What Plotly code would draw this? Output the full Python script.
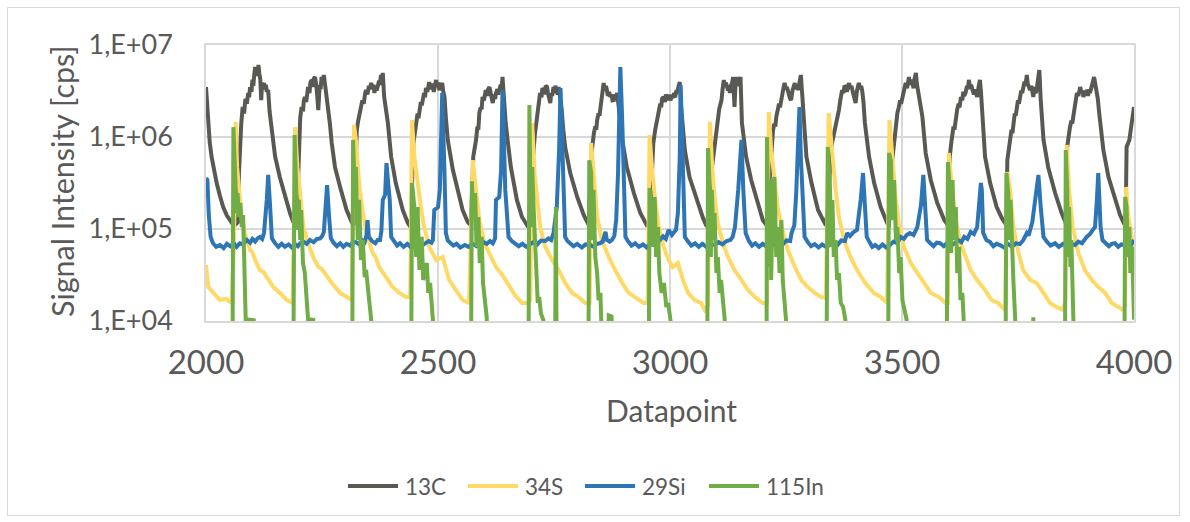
import plotly.graph_objects as go

# ---------------------------------------------------------------------------
# Signal traces as (datapoint index, counts per second) pairs
# ---------------------------------------------------------------------------
pts_13c = [
    (2000, 3.49e6), (2002, 2.3e6), (2005, 1.42e6), (2008, 8.8e5), (2012, 6.1e5), (2017, 4.2e5), (2023, 3.16e5),
    (2030, 2.3e5), (2037, 1.73e5), (2045, 1.4e5), (2052, 1.25e5), (2059, 1.10e5), (2064, 1.12e5),
    (2069, 1.19e5), (2071, 4.0e5), (2073, 7.2e5), (2076, 1.4e6), (2079, 2.12e6), (2082, 1.8e6), (2085, 2.6e6),
    (2088, 2.3e6), (2091, 3.0e6), (2093, 2.7e6), (2095, 3.49e6), (2098, 3.1e6), (2100, 4.2e6), (2102, 3.6e6),
    (2104, 4.8e6), (2106, 5.77e6), (2108, 4.6e6), (2110, 5.4e6), (2112, 4.7e6), (2113, 6.07e6), (2115, 4.9e6),
    (2117, 4.2e6), (2119, 2.52e6), (2121, 3.9e6), (2123, 3.4e6), (2125, 3.86e6), (2127, 3.3e6), (2129, 3.7e6),
    (2131, 3.1e6), (2134, 3.24e6), (2137, 1.9e6), (2142, 1.10e6), (2149, 6.1e5), (2159, 3.67e5), (2170, 2.23e5),
    (2181, 1.49e5), (2188, 1.19e5), (2194, 1.10e5),
    (2197, 2.07e5), (2200, 9.3e5), (2203, 1.6e6), (2206, 2.12e6), (2209, 1.9e6), (2211, 2.5e6), (2213, 2.72e6),
    (2216, 2.4e6), (2218, 3.2e6), (2220, 3.49e6), (2223, 3.0e6), (2225, 3.9e6), (2228, 4.17e6), (2230, 3.5e6),
    (2232, 4.3e6), (2235, 4.49e6), (2238, 3.6e6), (2240, 2.6e6), (2242, 1.96e6), (2245, 3.67e6), (2247, 3.3e6),
    (2249, 4.49e6), (2251, 3.8e6), (2254, 4.72e6), (2256, 3.9e6), (2258, 3.4e6), (2260, 3.01e6), (2264, 2.12e6),
    (2267, 1.4e6), (2271, 8.6e5), (2278, 4.7e5), (2289, 2.86e5), (2303, 1.61e5), (2314, 1.19e5), (2318, 1.10e5),
    (2322, 4.4e5), (2325, 1.19e6), (2328, 1.5e6), (2331, 1.9e6), (2334, 2.12e6), (2337, 2.5e6), (2340, 2.3e6),
    (2343, 3.0e6), (2345, 3.24e6), (2348, 2.9e6), (2351, 3.6e6), (2353, 3.3e6), (2356, 3.86e6), (2359, 3.4e6),
    (2361, 3.7e6), (2363, 3.01e6), (2366, 3.6e6), (2368, 3.2e6), (2370, 3.49e6), (2373, 4.1e6), (2375, 3.7e6),
    (2377, 4.72e6), (2379, 4.2e6), (2381, 4.97e6), (2384, 2.72e6), (2388, 1.9e6), (2392, 1.42e6), (2399, 6.1e5),
    (2409, 3.16e5), (2424, 1.61e5), (2435, 1.16e5), (2441, 1.05e5),
    (2444, 4.7e5), (2447, 8.5e5), (2450, 1.1e6), (2453, 1.42e6), (2456, 1.8e6), (2458, 1.6e6), (2460, 2.12e6),
    (2463, 2.4e6), (2465, 2.2e6), (2467, 2.72e6), (2470, 3.0e6), (2472, 2.7e6), (2474, 3.41e6), (2477, 3.1e6),
    (2479, 3.7e6), (2481, 3.96e6), (2484, 3.3e6), (2486, 3.8e6), (2489, 3.49e6), (2491, 3.1e6), (2494, 3.8e6),
    (2496, 4.17e6), (2498, 3.5e6), (2500, 3.9e6), (2503, 3.24e6), (2506, 3.6e6), (2509, 3.86e6), (2511, 3.2e6),
    (2514, 2.72e6), (2517, 1.6e6), (2521, 9.3e5), (2532, 4.4e5), (2542, 2.66e5), (2553, 1.61e5), (2564, 1.19e5),
    (2571, 1.10e5),
    (2576, 6.1e5), (2579, 7.2e5), (2582, 9.3e5), (2585, 1.3e6), (2587, 1.2e6), (2589, 1.82e6), (2592, 2.1e6),
    (2594, 2.0e6), (2596, 2.72e6), (2599, 2.5e6), (2601, 3.0e6), (2603, 3.24e6), (2606, 2.8e6), (2608, 3.3e6),
    (2611, 3.49e6), (2614, 3.0e6), (2616, 2.6e6), (2618, 2.34e6), (2621, 2.9e6), (2623, 2.6e6), (2625, 3.01e6),
    (2628, 3.3e6), (2630, 2.9e6), (2632, 3.24e6), (2635, 3.7e6), (2637, 3.3e6), (2639, 4.49e6), (2641, 3.2e6),
    (2643, 2.12e6), (2646, 1.4e6), (2650, 9.3e5), (2657, 4.7e5), (2670, 2.07e5), (2681, 1.35e5), (2692, 1.10e5),
    (2697, 1.16e5),
    (2699, 2.66e5), (2702, 4.5e5), (2706, 7.2e5), (2709, 1.1e6), (2711, 1.3e6), (2713, 1.65e6), (2716, 2.2e6),
    (2718, 2.5e6), (2720, 3.01e6), (2723, 2.7e6), (2725, 3.4e6), (2728, 3.24e6), (2730, 2.9e6), (2732, 3.6e6),
    (2735, 3.49e6), (2737, 3.0e6), (2740, 2.6e6), (2742, 2.34e6), (2744, 3.0e6), (2746, 2.8e6), (2749, 3.49e6),
    (2751, 3.0e6), (2753, 3.6e6), (2756, 3.24e6), (2758, 2.9e6), (2760, 3.49e6), (2763, 2.8e6), (2766, 2.12e6),
    (2770, 1.2e6), (2774, 7.8e5), (2785, 4.06e5), (2800, 2.23e5), (2814, 1.42e5), (2825, 1.10e5),
    (2830, 6.1e5), (2833, 8.5e5), (2836, 1.10e6), (2839, 1.3e6), (2841, 1.2e6), (2843, 1.53e6), (2846, 1.8e6),
    (2848, 1.7e6), (2850, 2.12e6), (2853, 2.8e6), (2855, 3.3e6), (2857, 3.86e6), (2859, 3.2e6), (2862, 3.6e6),
    (2864, 3.24e6), (2866, 2.8e6), (2869, 3.1e6), (2871, 2.72e6), (2874, 2.9e6), (2876, 2.5e6), (2879, 2.52e6),
    (2881, 2.9e6), (2884, 2.7e6), (2886, 3.01e6), (2889, 2.23e6), (2893, 1.5e6), (2897, 9.3e5), (2907, 4.7e5),
    (2922, 2.46e5), (2936, 1.49e5), (2950, 1.10e5), (2956, 1.10e5),
    (2961, 6.1e5), (2964, 8.5e5), (2968, 1.19e6), (2971, 1.4e6), (2973, 1.6e6), (2976, 1.82e6), (2979, 2.3e6),
    (2981, 2.1e6), (2983, 2.6e6), (2986, 2.72e6), (2989, 2.4e6), (2991, 2.9e6), (2994, 2.6e6), (2996, 2.52e6),
    (2999, 2.9e6), (3001, 2.5e6), (3004, 2.8e6), (3006, 2.65e6), (3009, 3.0e6), (3011, 2.7e6), (3014, 3.24e6),
    (3016, 3.0e6), (3018, 3.5e6), (3021, 3.96e6), (3024, 2.12e6), (3028, 1.2e6), (3032, 7.2e5), (3042, 3.67e5),
    (3057, 2.07e5), (3071, 1.32e5), (3078, 1.10e5), (3084, 1.10e5),
    (3089, 4.06e5), (3092, 5.5e5), (3096, 7.8e5), (3099, 1.2e6), (3101, 1.4e6), (3103, 1.65e6), (3106, 2.0e6),
    (3108, 2.2e6), (3111, 2.52e6), (3113, 3.2e6), (3116, 4.17e6), (3118, 3.5e6), (3120, 3.9e6), (3122, 3.67e6),
    (3125, 3.2e6), (3127, 3.5e6), (3129, 3.01e6), (3131, 3.6e6), (3134, 3.9e6), (3136, 4.49e6), (3139, 2.12e6),
    (3141, 3.6e6), (3143, 4.49e6), (3146, 3.6e6), (3148, 3.86e6), (3150, 4.2e6), (3152, 4.49e6), (3155, 1.42e6),
    (3164, 6.1e5), (3175, 3.41e5), (3190, 1.92e5), (3200, 1.25e5), (3208, 1.10e5),
    (3215, 4.06e5), (3218, 8.0e5), (3222, 1.19e6), (3225, 1.4e6), (3227, 1.3e6), (3229, 1.65e6), (3232, 1.9e6),
    (3235, 2.3e6), (3237, 2.1e6), (3240, 2.72e6), (3243, 3.1e6), (3245, 3.5e6), (3247, 3.86e6), (3250, 3.3e6),
    (3252, 3.5e6), (3254, 3.01e6), (3257, 2.8e6), (3259, 2.6e6), (3261, 2.52e6), (3264, 3.2e6), (3266, 3.5e6),
    (3269, 3.86e6), (3271, 3.3e6), (3274, 3.6e6), (3276, 3.24e6), (3279, 3.8e6), (3282, 4.72e6), (3284, 3.4e6),
    (3287, 2.12e6), (3290, 1.2e6), (3294, 6.1e5), (3305, 3.16e5), (3319, 1.61e5), (3330, 1.25e5), (3336, 1.10e5),
    (3342, 2.07e5), (3346, 7.2e5), (3349, 8.5e5), (3352, 1.0e6), (3355, 1.1e6), (3357, 1.19e6), (3360, 1.5e6),
    (3362, 1.7e6), (3364, 1.96e6), (3367, 2.5e6), (3369, 2.9e6), (3371, 3.24e6), (3374, 3.0e6), (3376, 3.6e6),
    (3379, 3.49e6), (3381, 3.1e6), (3384, 3.6e6), (3386, 3.86e6), (3388, 3.3e6), (3391, 3.6e6), (3393, 3.24e6),
    (3396, 2.8e6), (3398, 2.6e6), (3400, 2.34e6), (3403, 3.2e6), (3405, 3.5e6), (3407, 3.86e6), (3410, 3.3e6),
    (3412, 3.6e6), (3414, 3.24e6), (3417, 2.4e6), (3420, 1.42e6), (3429, 6.1e5), (3440, 3.16e5), (3454, 1.73e5),
    (3468, 1.16e5), (3472, 1.13e5),
    (3476, 4.06e5), (3480, 6.5e5), (3483, 9.3e5), (3486, 1.3e6), (3488, 1.5e6), (3490, 1.82e6), (3493, 2.1e6),
    (3496, 2.5e6), (3498, 2.3e6), (3501, 2.72e6), (3503, 3.2e6), (3506, 3.5e6), (3508, 3.86e6), (3511, 3.4e6),
    (3513, 4.1e6), (3515, 4.49e6), (3517, 3.7e6), (3520, 4.2e6), (3522, 3.86e6), (3525, 3.4e6), (3527, 4.3e6),
    (3530, 4.97e6), (3532, 3.8e6), (3534, 3.3e6), (3537, 2.72e6), (3540, 2.4e6), (3544, 1.65e6), (3551, 6.7e5),
    (3562, 3.41e5), (3576, 1.92e5), (3591, 1.25e5), (3599, 1.10e5),
    (3603, 6.1e5), (3606, 8.5e5), (3608, 1.0e6), (3611, 1.3e6), (3613, 1.2e6), (3616, 1.65e6), (3619, 2.0e6),
    (3622, 2.3e6), (3624, 2.1e6), (3627, 2.72e6), (3630, 2.5e6), (3632, 3.1e6), (3634, 2.8e6), (3637, 3.01e6),
    (3640, 3.6e6), (3642, 3.3e6), (3644, 4.17e6), (3647, 3.4e6), (3649, 3.7e6), (3652, 3.24e6), (3655, 2.9e6),
    (3657, 3.3e6), (3660, 2.8e6), (3662, 2.72e6), (3665, 3.5e6), (3668, 4.17e6), (3670, 3.2e6), (3672, 2.12e6),
    (3675, 1.2e6), (3679, 6.1e5), (3690, 3.16e5), (3704, 1.73e5), (3715, 1.32e5), (3722, 1.16e5), (3725, 1.10e5),
    (3727, 5.6e5), (3730, 7.5e5), (3733, 9.3e5), (3736, 1.2e6), (3738, 1.1e6), (3740, 1.42e6), (3743, 1.8e6),
    (3745, 1.7e6), (3747, 2.12e6), (3750, 2.5e6), (3752, 2.3e6), (3754, 2.72e6), (3757, 3.2e6), (3759, 3.0e6),
    (3761, 3.49e6), (3764, 4.0e6), (3766, 3.6e6), (3769, 4.72e6), (3771, 3.8e6), (3774, 3.5e6), (3776, 3.24e6),
    (3779, 3.6e6), (3781, 3.0e6), (3783, 2.72e6), (3786, 3.5e6), (3788, 3.0e6), (3790, 3.24e6), (3793, 4.0e6),
    (3796, 5.35e6), (3799, 2.52e6), (3802, 1.5e6), (3805, 9.3e5), (3815, 4.7e5), (3830, 2.46e5), (3844, 1.49e5),
    (3853, 1.16e5),
    (3856, 7.8e5), (3859, 1.1e6), (3862, 1.28e6), (3865, 1.5e6), (3867, 1.4e6), (3869, 1.65e6), (3872, 2.2e6),
    (3874, 2.6e6), (3877, 3.01e6), (3880, 2.8e6), (3882, 3.3e6), (3884, 3.49e6), (3887, 3.0e6), (3889, 3.2e6),
    (3891, 2.72e6), (3894, 3.1e6), (3896, 2.9e6), (3898, 3.24e6), (3901, 2.8e6), (3903, 3.3e6), (3905, 3.01e6),
    (3908, 3.6e6), (3911, 3.9e6), (3914, 4.49e6), (3917, 3.6e6), (3920, 3.24e6), (3922, 2.6e6), (3925, 1.82e6),
    (3929, 1.1e6), (3934, 7.2e5), (3945, 3.67e5), (3959, 2.07e5), (3970, 1.42e5), (3978, 1.16e5), (3982, 1.10e5),
    (3984, 7.8e5), (3987, 8.5e5), (3990, 9.3e5), (3993, 1.2e6), (3995, 1.42e6), (3998, 1.8e6), (4000, 2.12e6),
]

pts_34s = [
    (2000, 4.06e4), (2005, 2.34e4), (2016, 2.02e4), (2030, 1.69e4), (2043, 1.74e4), (2055, 1.57e4), (2060, 5.9e4),
    (2064, 1.46e6), (2067, 4.7e5), (2072, 2.23e5), (2077, 1.35e5), (2084, 9.05e4), (2095, 5.9e4), (2100, 5.6e4),
    (2106, 4.6e4), (2116, 3.58e4), (2124, 3.4e4), (2131, 3.0e4), (2145, 2.34e4), (2159, 2.02e4), (2174, 1.69e4),
    (2187, 1.57e4),
    (2192, 1.28e6), (2197, 4.7e5), (2203, 2.07e5), (2210, 1.05e5), (2220, 7.0e4), (2231, 4.96e4), (2242, 3.86e4),
    (2249, 3.7e4), (2256, 3.32e4), (2271, 2.59e4), (2289, 2.02e4), (2303, 1.82e4), (2314, 1.69e4),
    (2319, 1.35e6), (2323, 9.3e5), (2330, 3.16e5), (2338, 1.49e5), (2348, 8.2e4), (2359, 5.5e4), (2366, 4.9e4),
    (2373, 3.86e4), (2388, 3.0e4), (2402, 2.34e4), (2417, 2.02e4), (2431, 1.82e4), (2440, 1.82e4),
    (2444, 1.53e6), (2449, 6.1e5), (2456, 3.16e5), (2463, 1.73e5), (2470, 1.05e5), (2481, 6.4e4), (2496, 4.6e4),
    (2510, 4.96e4), (2524, 2.79e4), (2539, 2.17e4), (2553, 1.69e4), (2567, 1.57e4),
    (2575, 5.6e5), (2582, 2.66e5), (2589, 1.25e5), (2600, 7.0e4), (2611, 5.5e4), (2625, 3.86e4), (2639, 3.15e4),
    (2654, 2.34e4), (2666, 1.9e4), (2681, 1.57e4), (2694, 1.57e4), (2699, 1.69e4),
    (2703, 1.42e6), (2708, 4.06e5), (2713, 2.07e5), (2720, 1.05e5), (2731, 6.4e4), (2746, 4.6e4), (2760, 3.58e4),
    (2774, 2.59e4), (2789, 2.02e4), (2803, 1.82e4), (2817, 1.57e4), (2827, 1.57e4),
    (2830, 8.6e5), (2836, 3.41e5), (2843, 1.35e5), (2853, 7.6e4), (2868, 4.96e4), (2882, 3.58e4), (2897, 2.59e4),
    (2911, 2.02e4), (2925, 1.82e4), (2943, 1.57e4), (2952, 1.57e4),
    (2956, 1.05e6), (2961, 4.7e5), (2968, 2.07e5), (2976, 1.05e5), (2986, 6.4e4), (2997, 4.6e4), (3006, 3.86e4),
    (3017, 4.27e4), (3028, 2.79e4), (3039, 2.02e4), (3053, 1.69e4), (3067, 1.57e4), (3075, 1.32e4), (3082, 1.48e4),
    (3086, 1.46e6), (3091, 4.7e5), (3096, 2.23e5), (3103, 1.16e5), (3114, 7.0e4), (3125, 4.96e4), (3139, 3.58e4),
    (3154, 2.79e4), (3168, 2.17e4), (3183, 1.82e4), (3200, 1.57e4), (3209, 1.57e4),
    (3213, 1.87e6), (3218, 7.2e5), (3226, 3.16e5), (3233, 1.61e5), (3244, 9.05e4), (3254, 5.9e4), (3269, 3.86e4),
    (3283, 2.79e4), (3297, 2.34e4), (3312, 2.02e4), (3326, 1.82e4), (3336, 1.78e4),
    (3342, 1.82e6), (3350, 6.1e5), (3357, 2.66e5), (3364, 1.35e5), (3375, 7.6e4), (3389, 4.96e4), (3403, 3.58e4),
    (3421, 2.59e4), (3439, 2.02e4), (3454, 1.82e4), (3468, 1.57e4),
    (3473, 1.53e6), (3479, 5.6e5), (3486, 2.23e5), (3493, 1.16e5), (3504, 6.4e4), (3519, 4.27e4), (3533, 3.32e4),
    (3547, 2.59e4), (3562, 2.02e4), (3580, 1.82e4), (3594, 1.57e4), (3599, 1.57e4),
    (3601, 6.7e5), (3608, 2.66e5), (3616, 1.25e5), (3626, 7.0e4), (3637, 4.96e4), (3648, 3.58e4), (3662, 2.79e4),
    (3679, 2.17e4), (3693, 1.69e4), (3707, 1.57e4), (3722, 1.32e4),
    (3727, 4.17e5), (3733, 2.66e5), (3740, 1.05e5), (3751, 5.5e4), (3761, 3.58e4), (3776, 2.79e4), (3790, 2.59e4),
    (3805, 2.02e4), (3819, 1.57e4), (3833, 1.42e4), (3847, 1.32e4), (3852, 1.69e4),
    (3855, 8.2e5), (3860, 2.66e5), (3868, 1.05e5), (3880, 5.5e4), (3894, 3.58e4), (3909, 2.79e4), (3923, 2.34e4),
    (3938, 2.02e4), (3952, 1.57e4), (3966, 1.42e4), (3977, 1.32e4), (3981, 1.48e4),
    (3983, 2.86e5), (3988, 1.35e5), (3995, 7.6e4), (4000, 5.9e4),
]

pts_29si = [
    (2000, 3.58e5), (2003, 3.41e5), (2006, 1.42e5), (2010, 8.2e4), (2015, 7.0e4), (2022, 6.4e4), (2030, 6.7e4),
    (2038, 6.2e4), (2045, 6.9e4), (2052, 6.5e4), (2060, 7.0e4), (2066, 6.4e4), (2073, 7.0e4), (2080, 6.8e4),
    (2088, 7.6e4), (2095, 7.1e4), (2100, 7.8e4), (2106, 7.3e4), (2111, 7.9e4), (2116, 8.2e4), (2121, 7.8e4),
    (2125, 9.05e4), (2131, 2.07e5), (2134, 3.87e5), (2138, 1.83e5), (2142, 7.9e4), (2149, 7.0e4), (2156, 6.4e4),
    (2163, 6.9e4), (2170, 6.4e4), (2178, 6.8e4), (2185, 6.3e4), (2192, 6.85e4), (2198, 6.5e4), (2203, 7.0e4),
    (2210, 7.3e4), (2217, 6.9e4), (2224, 7.6e4), (2232, 7.2e4), (2239, 7.8e4), (2246, 7.9e4), (2250, 8.3e4),
    (2254, 9.3e4), (2259, 1.83e5), (2261, 3.0e5), (2265, 1.42e5), (2269, 7.9e4), (2275, 7.1e4), (2282, 6.5e4),
    (2289, 7.0e4), (2296, 6.4e4), (2303, 6.9e4), (2310, 6.6e4), (2316, 7.1e4), (2323, 7.2e4), (2330, 6.8e4),
    (2336, 7.6e4), (2342, 7.2e4), (2346, 8.6e4), (2348, 1.25e5), (2351, 8.2e4), (2358, 7.4e4), (2365, 7.0e4),
    (2370, 7.6e4), (2375, 7.6e4), (2378, 9.5e4), (2381, 2.07e5), (2386, 2.35e5), (2389, 5.2e5), (2393, 3.0e5),
    (2396, 2.07e5), (2399, 8.2e4), (2406, 7.2e4), (2412, 6.6e4), (2418, 7.0e4), (2426, 6.4e4), (2434, 6.9e4),
    (2442, 6.3e4), (2450, 6.7e4), (2458, 7.1e4), (2465, 6.6e4), (2472, 7.0e4), (2480, 7.4e4), (2486, 7.1e4),
    (2489, 7.6e4), (2492, 1.61e5), (2500, 1.73e5), (2504, 2.66e5), (2509, 3.01e6), (2514, 4.06e5), (2517, 9.05e4),
    (2521, 7.5e4), (2526, 7.2e4), (2533, 6.6e4), (2540, 6.9e4), (2548, 6.3e4), (2558, 6.7e4), (2566, 6.4e4),
    (2575, 6.9e4), (2583, 6.5e4), (2591, 6.85e4), (2598, 7.2e4), (2605, 6.9e4), (2612, 7.4e4), (2618, 7.0e4),
    (2623, 7.9e4), (2625, 2.07e5), (2632, 2.23e5), (2636, 4.4e5), (2639, 3.24e6), (2645, 2.66e5), (2652, 8.2e4),
    (2659, 7.4e4), (2666, 7.0e4), (2674, 6.5e4), (2682, 6.9e4), (2690, 6.4e4), (2698, 6.85e4), (2706, 7.2e4),
    (2714, 6.8e4), (2722, 7.5e4), (2731, 7.4e4), (2738, 7.9e4), (2744, 7.6e4), (2749, 9.05e4), (2756, 1.73e5),
    (2761, 7.2e5), (2764, 3.41e6), (2767, 1.19e6), (2771, 4.06e5), (2774, 8.2e4), (2779, 7.4e4), (2784, 7.0e4),
    (2792, 6.5e4), (2800, 6.9e4), (2810, 6.3e4), (2818, 6.8e4), (2828, 6.7e4), (2836, 6.4e4), (2843, 6.9e4),
    (2849, 7.0e4), (2855, 7.3e4), (2861, 9.3e4), (2864, 7.6e4), (2870, 7.3e4), (2875, 7.6e4), (2880, 8.4e4),
    (2884, 1.25e5), (2888, 4.06e5), (2893, 5.77e6), (2897, 1.53e6), (2900, 4.06e5), (2904, 8.2e4), (2910, 7.3e4),
    (2917, 6.6e4), (2925, 7.0e4), (2933, 6.4e4), (2942, 6.8e4), (2950, 6.3e4), (2958, 6.9e4), (2968, 6.7e4),
    (2974, 7.2e4), (2979, 7.6e4), (2985, 8.3e4), (2991, 7.8e4), (2997, 9.8e4), (3004, 8.6e4), (3008, 9.0e4),
    (3013, 9.8e4), (3017, 1.49e5), (3021, 6.1e5), (3023, 3.67e6), (3026, 9.3e5), (3028, 6.1e5), (3032, 8.2e4),
    (3038, 7.4e4), (3046, 6.6e4), (3054, 7.0e4), (3062, 6.4e4), (3070, 6.9e4), (3080, 6.3e4), (3088, 6.8e4),
    (3097, 6.7e4), (3105, 7.2e4), (3113, 6.8e4), (3122, 7.4e4), (3130, 7.6e4), (3135, 8.2e4), (3140, 1.05e5),
    (3147, 2.66e5), (3151, 4.7e5), (3154, 9.3e5), (3158, 2.66e5), (3163, 9.05e4), (3170, 7.4e4), (3177, 6.6e4),
    (3184, 7.0e4), (3192, 6.4e4), (3200, 6.9e4), (3210, 6.3e4), (3218, 6.8e4), (3227, 6.7e4), (3235, 7.2e4),
    (3243, 6.8e4), (3251, 7.5e4), (3259, 7.4e4), (3262, 9.05e4), (3268, 1.1e5), (3272, 2.46e5), (3276, 9.3e5),
    (3279, 2.12e6), (3282, 6.1e5), (3287, 2.07e5), (3290, 8.2e4), (3297, 7.2e4), (3304, 6.5e4), (3312, 6.85e4),
    (3320, 6.3e4), (3328, 6.8e4), (3336, 6.4e4), (3345, 6.7e4), (3353, 7.1e4), (3361, 6.7e4), (3369, 7.5e4),
    (3377, 7.4e4), (3382, 9.05e4), (3388, 8.4e4), (3395, 9.2e4), (3403, 9.8e4), (3411, 2.07e5), (3416, 4.06e5),
    (3420, 1.73e5), (3424, 8.2e4), (3430, 7.2e4), (3436, 6.4e4), (3442, 6.7e4), (3450, 6.2e4), (3458, 6.8e4),
    (3466, 6.3e4), (3474, 6.7e4), (3482, 7.3e4), (3490, 7.0e4), (3497, 8.2e4), (3504, 7.8e4), (3510, 8.6e4),
    (3517, 9.05e4), (3525, 8.6e4), (3533, 1.05e5), (3541, 1.83e5), (3546, 3.87e5), (3551, 1.05e5), (3554, 7.6e4),
    (3561, 7.0e4), (3568, 6.5e4), (3575, 7.1e4), (3582, 7.0e4), (3590, 6.5e4), (3598, 7.1e4), (3606, 6.6e4),
    (3614, 7.0e4), (3621, 7.6e4), (3628, 7.2e4), (3634, 8.2e4), (3641, 7.8e4), (3648, 9.3e4), (3655, 8.8e4),
    (3662, 1.05e5), (3666, 2.07e5), (3670, 3.16e5), (3672, 2.66e5), (3675, 9.05e4), (3682, 7.6e4), (3690, 7.2e4),
    (3697, 6.5e4), (3704, 6.9e4), (3711, 6.7e4), (3720, 6.3e4), (3728, 6.9e4), (3737, 6.4e4), (3746, 7.0e4),
    (3754, 6.85e4), (3761, 7.5e4), (3769, 9.05e4), (3773, 8.5e4), (3776, 9.8e4), (3781, 1.2e5), (3787, 2.07e5),
    (3794, 3.87e5), (3799, 1.73e5), (3805, 8.2e4), (3812, 7.3e4), (3820, 6.6e4), (3830, 7.0e4), (3838, 6.4e4),
    (3847, 6.9e4), (3856, 6.3e4), (3864, 6.9e4), (3873, 6.7e4), (3880, 7.3e4), (3888, 7.0e4), (3898, 8.2e4),
    (3905, 8.8e4), (3910, 9.6e4), (3916, 1.05e5), (3920, 2.07e5), (3923, 4.06e5), (3928, 1.05e5), (3932, 7.6e4),
    (3939, 7.0e4), (3946, 6.5e4), (3952, 6.9e4), (3959, 7.0e4), (3966, 6.4e4), (3973, 6.8e4), (3981, 6.7e4),
    (3988, 7.2e4), (3994, 6.8e4), (4000, 7.6e4),
]

# 115In drops below the axis floor between injections (2e3 cps)
pts_115in = [
    (2000, 2e3), (2057, 2e3), (2059, 1.28e6), (2063, 2.23e5), (2066, 1.49e5), (2068, 2.46e5), (2071, 1.35e5),
    (2074, 1.92e5), (2077, 1.05e5), (2080, 1.42e5), (2084, 1.03e4), (2086, 2e3), (2089, 2e3), (2091, 1.04e4),
    (2103, 1.02e4), (2105, 2e3),
    (2188, 2e3), (2191, 1.05e6), (2194, 2.66e5), (2197, 9.8e4), (2200, 2.07e5), (2203, 7.6e4), (2205, 1.61e5),
    (2209, 4.27e4), (2213, 3.32e4), (2220, 1.03e4), (2222, 2e3), (2224, 2e3), (2225, 1.04e4), (2231, 1.03e4),
    (2232, 2e3),
    (2315, 2e3), (2317, 9.3e5), (2320, 3.16e5), (2323, 4.7e5), (2327, 7.6e4), (2330, 2.07e5), (2334, 4.6e4),
    (2338, 7.6e4), (2342, 3.0e4), (2345, 3.58e4), (2350, 1.82e4), (2356, 1.03e4), (2357, 2e3),
    (2442, 2e3), (2444, 3.16e5), (2449, 1.73e5), (2453, 4.96e4), (2456, 1.73e5), (2460, 3.58e4), (2461, 4.96e4),
    (2465, 8.2e4), (2468, 2.79e4), (2476, 4.27e4), (2479, 2.02e4), (2483, 2.59e4), (2489, 1.03e4), (2490, 2e3),
    (2571, 2e3), (2573, 3.3e5), (2576, 1.35e5), (2580, 2.46e5), (2583, 6.4e4), (2587, 1.35e5), (2590, 4.27e4),
    (2594, 8.2e4), (2597, 2.59e4), (2605, 1.1e4), (2606, 2e3),
    (2695, 2e3), (2697, 2.23e6), (2700, 1.05e5), (2703, 4.7e5), (2706, 1.73e5), (2709, 6.4e4), (2713, 3.32e4),
    (2715, 1.57e4), (2718, 1.82e4), (2722, 1.2e4), (2727, 1.03e4), (2729, 2e3),
    (2752, 2e3), (2754, 1.73e5), (2756, 2e3),
    (2824, 2e3), (2826, 5.6e5), (2830, 4.06e5), (2833, 7.6e4), (2835, 2.66e5), (2839, 4.96e4), (2843, 3.32e4),
    (2846, 1.69e4), (2850, 2.02e4), (2853, 1.03e4), (2856, 2e3),
    (2866, 2e3), (2868, 1.15e4), (2874, 1.12e4), (2876, 2e3),
    (2954, 2e3), (2956, 2.79e5), (2959, 1.73e5), (2963, 6.4e4), (2967, 2.23e5), (2970, 4.96e4), (2974, 1.05e5),
    (2977, 3.32e4), (2982, 2.02e4), (2987, 2.59e4), (2992, 1.42e4), (2996, 1.57e4), (3001, 1.03e4), (3003, 2e3),
    (3080, 2e3), (3082, 7.6e5), (3085, 3.41e5), (3088, 4.96e4), (3090, 2.66e5), (3094, 7.6e4), (3096, 1.49e5),
    (3100, 3.32e4), (3103, 4.96e4), (3107, 2.02e4), (3110, 2.79e4), (3114, 1.42e4), (3118, 1.03e4), (3119, 2e3),
    (3208, 2e3), (3209, 1.0e6), (3213, 3.86e4), (3216, 3.41e5), (3218, 2.79e4), (3222, 2.66e5), (3225, 3.67e5),
    (3229, 4.96e4), (3233, 1.05e5), (3236, 3.32e4), (3240, 1.25e5), (3243, 2.79e4), (3247, 1.69e4), (3250, 1.03e4),
    (3252, 2e3),
    (3337, 2e3), (3340, 7.8e5), (3345, 2.66e5), (3347, 6.4e4), (3350, 2.07e5), (3353, 4.96e4), (3357, 7.6e4),
    (3360, 2.79e4), (3364, 3.32e4), (3368, 1.57e4), (3373, 1.42e4), (3378, 1.03e4), (3380, 2e3),
    (3470, 2e3), (3472, 6.7e5), (3476, 5.6e5), (3479, 1.25e5), (3483, 3.41e5), (3487, 7.6e4), (3490, 1.05e5),
    (3494, 3.32e4), (3497, 4.96e4), (3501, 1.69e4), (3504, 1.42e4), (3510, 1.03e4), (3512, 2e3),
    (3596, 2e3), (3599, 5.35e5), (3603, 2.66e5), (3606, 5.5e4), (3609, 3.41e5), (3612, 7.6e4), (3616, 1.73e5),
    (3619, 3.32e4), (3623, 6.4e4), (3626, 1.69e4), (3630, 2.02e4), (3633, 1.03e4), (3636, 2e3),
    (3723, 2e3), (3725, 4.06e5), (3729, 2.46e5), (3731, 7.6e4), (3734, 2.07e5), (3737, 4.96e4), (3740, 2.79e4),
    (3744, 1.03e4), (3745, 2e3),
    (3781, 2e3), (3783, 1.1e4), (3784, 2e3),
    (3851, 2e3), (3853, 7.2e5), (3856, 2.66e5), (3858, 4.96e4), (3860, 1.73e5), (3863, 3.86e4), (3865, 7.6e4),
    (3868, 2.34e4), (3871, 1.03e4), (3873, 2e3),
    (3979, 2e3), (3981, 2.23e5), (3984, 1.73e5), (3987, 4.96e4), (3990, 1.05e5), (3992, 3.32e4), (3996, 6.4e4),
    (3999, 1.69e4), (4000, 1.03e4),
]

series_names = ["13C", "34S", "29Si", "115In"]
series_points = [pts_13c, pts_34s, pts_29si, pts_115in]
series_colors = ["#595954", "#ffd966", "#2e75b6", "#70ad47"]

y_tick_vals = [1e4, 1e5, 1e6, 1e7]
y_tick_text = ["1,E+04", "1,E+05", "1,E+06", "1,E+07"]
x_tick_vals = [2000, 2500, 3000, 3500, 4000]

# ---------------------------------------------------------------------------
# Layout geometry (pixels) and helpers to place items in paper coordinates
# ---------------------------------------------------------------------------
W, H = 1190, 522
PL, PR, PT, PB = 206, 1134, 45, 321
TEXT = "#595959"
GRID = "#d9d9d9"
FONT = "Lato"


def px_x(p):
    return (p - PL) / (PR - PL)


def px_y(p):
    return (PB - p) / (PB - PT)


fig = go.Figure()
for name, color, pts in zip(series_names, series_colors, series_points):
    fig.add_trace(go.Scatter(x=[p[0] for p in pts], y=[p[1] for p in pts],
                             mode="lines", name=name,
                             line=dict(color=color, width=4)))

fig.update_layout(
    width=W, height=H,
    margin=dict(l=PL, r=W - PR, t=PT, b=H - PB),
    paper_bgcolor="white", plot_bgcolor="white",
    showlegend=False,
    font=dict(family=FONT, color=TEXT),
)
fig.update_xaxes(range=[2000, 4000], tickvals=x_tick_vals,
                 showgrid=True, gridcolor=GRID, gridwidth=1.5,
                 showline=True, linecolor=GRID, linewidth=1.5, mirror=True,
                 zeroline=False, ticks="", ticklabelstandoff=12,
                 tickfont=dict(size=33, color=TEXT, family=FONT))
fig.update_yaxes(type="log", range=[4, 7], tickvals=y_tick_vals, ticktext=y_tick_text,
                 showgrid=True, gridcolor=GRID, gridwidth=1.5,
                 showline=True, linecolor=GRID, linewidth=1.5, mirror=True,
                 zeroline=False, ticks="", ticklabelstandoff=26,
                 tickfont=dict(size=27, color=TEXT, family=FONT))

# axis titles
fig.add_annotation(text="Signal Intensity [cps]", xref="paper", yref="paper",
                   x=px_x(62), y=px_y(181), textangle=-90, showarrow=False,
                   xanchor="center", yanchor="middle",
                   font=dict(size=30.5, color=TEXT, family=FONT))
fig.add_annotation(text="Datapoint", xref="paper", yref="paper",
                   x=px_x(671), y=px_y(410), showarrow=False,
                   xanchor="center", yanchor="middle",
                   font=dict(size=30, color=TEXT, family=FONT))

# legend row along the bottom
legend_line_x = [348, 468, 585, 709]
legend_y = 486
for name, color, lx in zip(series_names, series_colors, legend_line_x):
    fig.add_shape(type="line", xref="paper", yref="paper",
                  x0=px_x(lx), x1=px_x(lx + 50), y0=px_y(legend_y), y1=px_y(legend_y),
                  line=dict(color=color, width=4))
    fig.add_annotation(text=name, xref="paper", yref="paper",
                       x=px_x(lx + 55), y=px_y(legend_y), showarrow=False,
                       xanchor="left", yanchor="middle",
                       font=dict(size=22.5, color=TEXT, family=FONT))

# chart frame
fig.add_shape(type="rect", xref="paper", yref="paper",
              x0=px_x(7.5), x1=px_x(1179.5), y0=px_y(515.5), y1=px_y(7.5),
              line=dict(color=GRID, width=1), fillcolor="rgba(0,0,0,0)", layer="below")

fig.write_html("out.html")
